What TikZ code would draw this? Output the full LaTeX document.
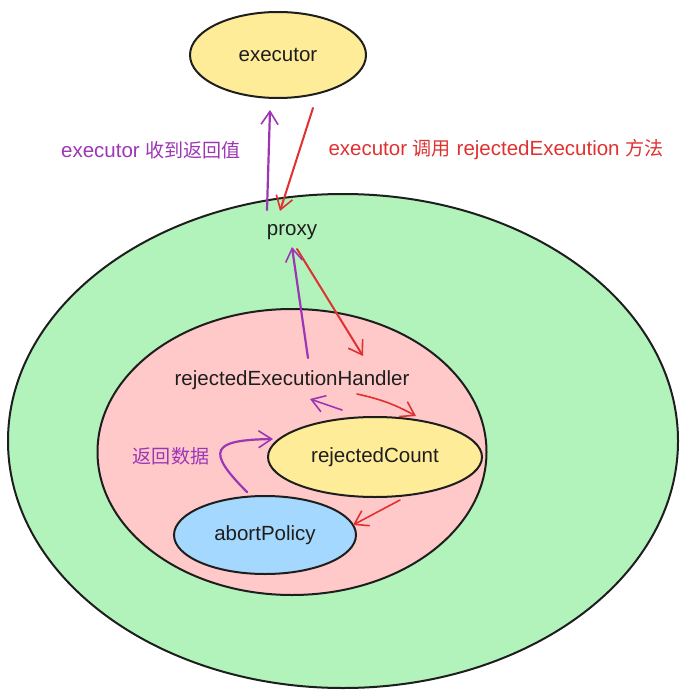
\documentclass[tikz,border=0pt]{standalone}
\usepackage{fontspec}
\setmainfont{Liberation Sans}
\newfontfamily\cjk{Noto Sans CJK SC}[Scale=0.93]
\usetikzlibrary{shapes.geometric,arrows.meta}
\definecolor{cyellow}{HTML}{FFEC99}
\definecolor{cgreen}{HTML}{B2F2BB}
\definecolor{cpink}{HTML}{FFC9C9}
\definecolor{cblue}{HTML}{A5D8FF}
\definecolor{cpurple}{HTML}{9C36B5}
\definecolor{cred}{HTML}{E03131}
\definecolor{cstroke}{HTML}{1E1E1E}
\tikzset{
  blob/.style={ellipse, draw=cstroke, line width=2pt, inner sep=0pt},
  txt/.style={font=\fontsize{20.5}{22}\selectfont, text=cstroke, inner sep=0pt},
  parrow/.style={draw=cpurple, line width=2.2pt, line cap=round, -{Straight Barb[length=13pt,width=17pt,line width=1.6pt]}},
  rarrow/.style={draw=cred, line width=2pt, line cap=round, -{Straight Barb[length=13pt,width=17pt,line width=1.6pt]}},
  plabel/.style={font=\fontsize{20.5}{22}\selectfont, text=cpurple, inner sep=0pt},
  rlabel/.style={font=\fontsize{20.5}{22}\selectfont, text=cred, inner sep=0pt}
}
\begin{document}
\begin{tikzpicture}[x=1pt,y=-1pt]
\useasboundingbox (0,0) rectangle (688,698);
% containers
\node[blob, fill=cgreen, minimum width=670pt, minimum height=494pt] (green) at (343,441) {};
\node[blob, fill=cpink, minimum width=389pt, minimum height=286pt] (pink) at (292,452) {};
% nodes
\node[blob, fill=cyellow, minimum width=176pt, minimum height=86pt] (exec) at (278,55) {};
\node[txt] (execT) at (278,55) {executor};
\node[blob, fill=cyellow, minimum width=214pt, minimum height=80pt] (count) at (375,457) {};
\node[txt] (countT) at (375,457) {rejectedCount};
\node[blob, fill=cblue, minimum width=182pt, minimum height=78pt] (abort) at (265,535) {};
\node[txt] (abortT) at (265,535) {abortPolicy};
\node[txt] (proxy) at (292,232) {proxy};
\node[txt] (handler) at (292,380) {rejectedExecutionHandler};
% labels
\node[plabel] (l1) at (151,150) {executor {\cjk 收到返回值}};
\node[rlabel] (l2) at (496,150) {executor {\cjk 调用} rejectedExecution {\cjk 方法}};
\node[plabel] (l3) at (171,456) {\cjk 返回数据};
% connector ends
\coordinate (p1s) at (267,210);
\coordinate (p1e) at (270,110);
\coordinate (r1s) at (313,108);
\coordinate (r1e) at (280,211);
\coordinate (r2s) at (297,249);
\coordinate (r2e) at (363,356);
\coordinate (p2s) at (308,358);
\coordinate (p2e) at (292,247);
\coordinate (p3s) at (342,410);
\coordinate (p3e) at (310,399);
\coordinate (r3s) at (357,394);
\coordinate (r3e) at (416,416);
\coordinate (p4s) at (247,492);
\coordinate (p4e) at (273,439);
\coordinate (r4s) at (400,500);
\coordinate (r4e) at (353,525);
% connectors
\draw[parrow] (p1s) -- (p1e);
\draw[rarrow] (r1s) -- (r1e);
\draw[rarrow] (r2s) -- (r2e);
\draw[parrow] (p2s) -- (p2e);
\draw[parrow, line width=1.6pt] (p3s) -- (p3e);
\draw[rarrow, line width=1.6pt] (r3s) to[bend left=8] (r3e);
\draw[parrow] (p4s) .. controls (205,450) and (212,440) .. (p4e);
\draw[rarrow, line width=1.6pt] (r4s) -- (r4e);
\end{tikzpicture}
\end{document}
